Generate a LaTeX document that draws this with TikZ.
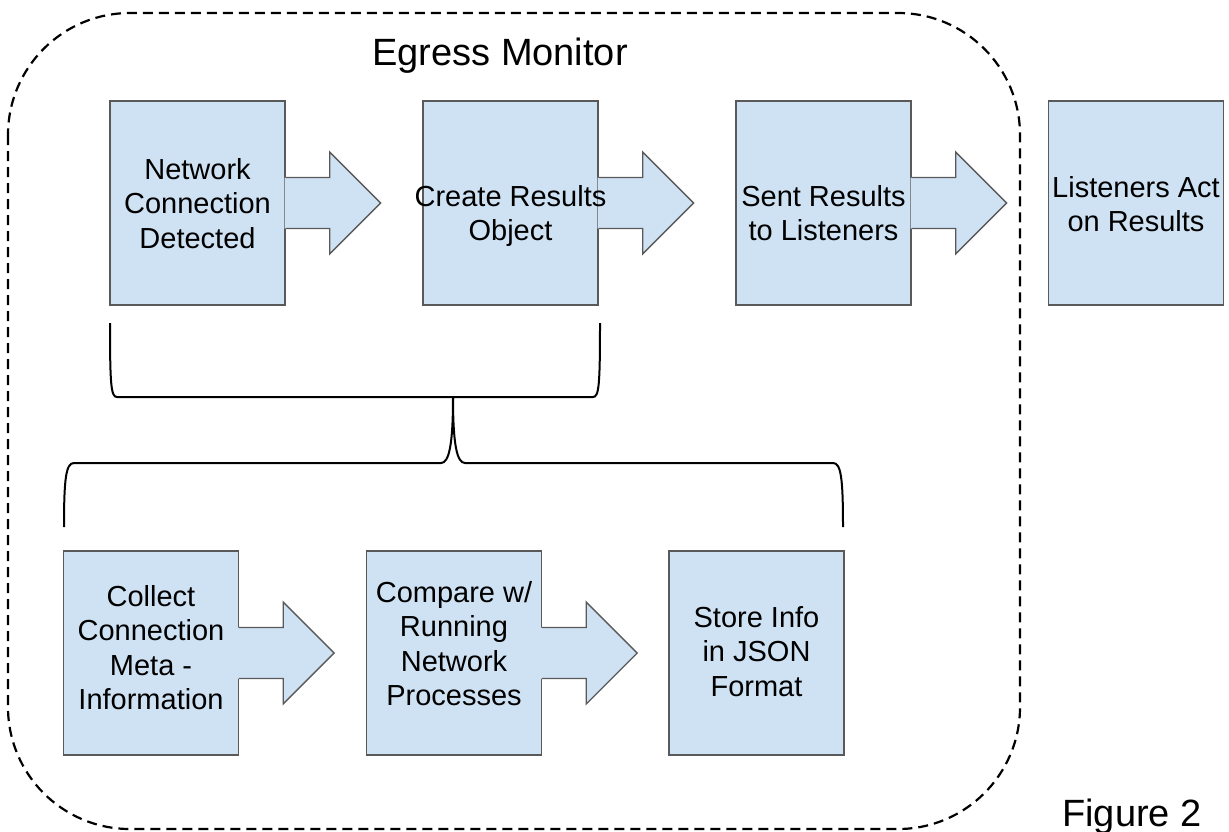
\documentclass[tikz,border=0pt]{standalone}
\usepackage{fontspec}
\setmainfont{Liberation Sans}
\usetikzlibrary{calc}
\definecolor{boxfill}{HTML}{CFE2F3}
\definecolor{boxedge}{HTML}{595959}
\tikzset{
  stepbox/.style={draw=boxedge, fill=boxfill, line width=1.3pt, minimum width=175pt, minimum height=204pt, inner sep=0pt},
  boxtext/.style={font=\fontsize{29}{34.5}\selectfont, align=center, inner sep=0pt, anchor=north},
  headtext/.style={font=\fontsize{38}{44}\selectfont, inner sep=0pt, anchor=base},
  bracestyle/.style={line width=2pt, black},
  frame/.style={line width=2.2pt, dash pattern=on 10pt off 6pt, rounded corners=122pt}
}
\newcommand\flowarrow[1]{%
  \fill[boxfill] ($(#1.east)+(-1,-25.5)$) -- ++(45,0) -- ++(0,-25.5) -- ++(51,51) -- ++(-51,51) -- ++(0,-25.5) -- ++(-45,0) -- cycle;
  \draw[draw=boxedge, line width=1.3pt] ($(#1.east)+(0,-25.5)$) -- ++(44,0) -- ++(0,-25.5) -- ++(51,51) -- ++(-51,51) -- ++(0,-25.5) -- ++(-44,0);
}
\begin{document}
\begin{tikzpicture}[x=1pt,y=-1pt]
\useasboundingbox (0,0) rectangle (1229,831);
% dashed frame
\draw[frame] (8,13) rectangle (1020,829);
\node[headtext] (title) at (500,65) {Egress Monitor};
% top row
\node[stepbox] (b1) at (197.5,203) {};
\node[stepbox] (b2) at (510.5,203) {};
\node[stepbox] (b3) at (823.5,203) {};
\node[stepbox] (b4) at (1136,203) {};
\flowarrow{b1}
\flowarrow{b2}
\flowarrow{b3}
\node[boxtext] (t1) at (197.5,158) {Network\\Connection\\Detected};
\node[boxtext] (t2) at (510.5,185) {Create Results\\Object};
\node[boxtext] (t3) at (823.5,185) {Sent Results\\to Listeners};
\node[boxtext] (t4) at (1136,176) {Listeners Act\\on Results};
% bottom row
\node[stepbox] (c1) at (151,653) {};
\node[stepbox] (c2) at (454,653) {};
\node[stepbox] (c3) at (756.5,653) {};
\flowarrow{c1}
\flowarrow{c2}
\node[boxtext] (u1) at (151,585) {Collect\\Connection\\Meta -\\Information};
\node[boxtext] (u2) at (454,581) {Compare w/\\Running\\Network\\Processes};
\node[boxtext] (u3) at (756.5,606) {Store Info\\in JSON\\Format};
% braces
\coordinate (bt) at (453,397);
\draw[bracestyle] (110,323) .. controls (110,385) and (111,397) .. (117,397) -- (593,397) .. controls (599,397) and (600,385) .. (600,323);
\draw[bracestyle] (64,527) .. controls (64,478) and (66,463) .. (74,463) -- (441,463) .. controls (449,463) and (453,445) .. (bt);
\draw[bracestyle] (bt) .. controls (453,445) and (457,463) .. (465,463) -- (833,463) .. controls (841,463) and (843,478) .. (843,527);
\node[headtext] (fig) at (1132,826) {Figure 2};
\end{tikzpicture}
\end{document}
